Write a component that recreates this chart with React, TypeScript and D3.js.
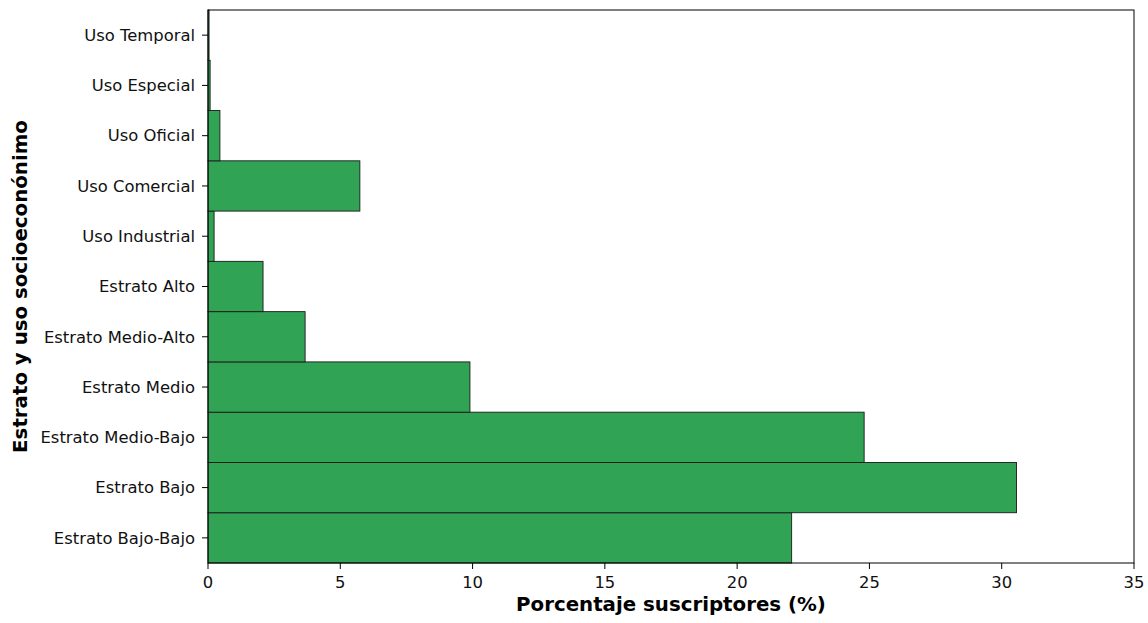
import React from "react";
import * as d3 from "d3";

const categories = [
  "Estrato Bajo-Bajo",
  "Estrato Bajo",
  "Estrato Medio-Bajo",
  "Estrato Medio",
  "Estrato Medio-Alto",
  "Estrato Alto",
  "Uso Industrial",
  "Uso Comercial",
  "Uso Oficial",
  "Uso Especial",
  "Uso Temporal",
];
const values = [22.06, 30.56, 24.8, 9.9, 3.67, 2.08, 0.23, 5.74, 0.45, 0.08, 0.04];
const xTicks = [0, 5, 10, 15, 20, 25, 30, 35];

const W = 1148;
const H = 623;
const M = { left: 208, right: 1134, top: 10, bottom: 563 };
const FONT = "DejaVu Sans, sans-serif";
const TICK_FS = 16.4;
const LABEL_FS = 19.8;

export default function App() {
  const x = d3.scaleLinear().domain([0, 35]).range([M.left, M.right]);
  const n = categories.length;
  const y = d3.scaleLinear().domain([-0.5, n - 0.5]).range([M.bottom, M.top]);
  const bandH = Math.abs(y(1) - y(0));

  return (
    <svg width={W} height={H} style={{ position: "absolute", left: 0, top: 0, background: "#fff" }}>
      <rect x={0} y={0} width={W} height={H} fill="#fff" />
      {values.map((v, i) => (
        <rect
          key={categories[i]}
          x={x(0)}
          y={y(i) - bandH / 2}
          width={x(v) - x(0)}
          height={bandH}
          fill="#31a354"
          stroke="#1a1a1a"
          strokeWidth={0.9}
        />
      ))}
      <rect
        x={M.left}
        y={M.top}
        width={M.right - M.left}
        height={M.bottom - M.top}
        fill="none"
        stroke="#000"
        strokeWidth={1}
      />
      {xTicks.map((t) => (
        <g key={t}>
          <line x1={x(t)} x2={x(t)} y1={M.bottom} y2={M.bottom + 6} stroke="#000" strokeWidth={1} />
          <text x={x(t)} y={M.bottom + 25} textAnchor="middle" fontFamily={FONT} fontSize={TICK_FS} fill="#111">
            {t}
          </text>
        </g>
      ))}
      {categories.map((c, i) => (
        <g key={c}>
          <line x1={M.left - 6} x2={M.left} y1={y(i)} y2={y(i)} stroke="#000" strokeWidth={1} />
          <text
            x={M.left - 13}
            y={y(i)}
            dy="0.35em"
            textAnchor="end"
            fontFamily={FONT}
            fontSize={TICK_FS}
            fill="#111"
          >
            {c}
          </text>
        </g>
      ))}
      <text
        x={(M.left + M.right) / 2}
        y={611}
        textAnchor="middle"
        fontFamily={FONT}
        fontSize={LABEL_FS}
        fontWeight="bold"
        fill="#000"
      >
        Porcentaje suscriptores (%)
      </text>
      <text
        transform={`translate(27, ${(M.top + M.bottom) / 2}) rotate(-90)`}
        textAnchor="middle"
        fontFamily={FONT}
        fontSize={LABEL_FS}
        fontWeight="bold"
        fill="#000"
      >
        Estrato y uso socioeconónimo
      </text>
    </svg>
  );
}
